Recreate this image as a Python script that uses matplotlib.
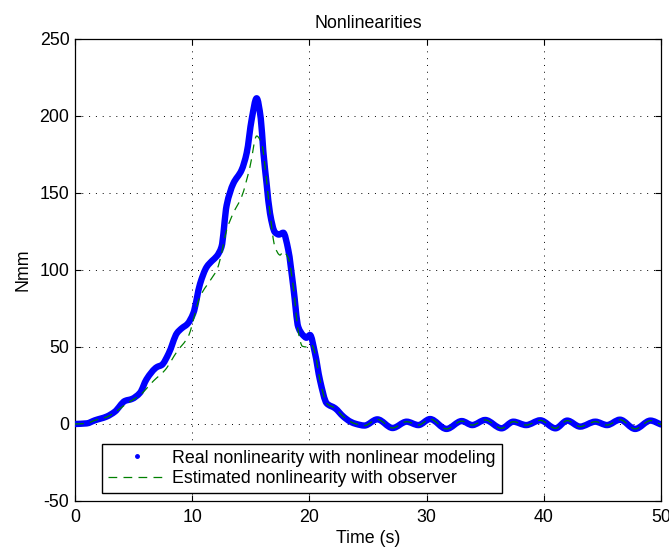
import matplotlib
matplotlib.use("Agg")
import matplotlib.pyplot as plt
from matplotlib.path import Path
from matplotlib.patches import PathPatch
import numpy as np

# Real nonlinearity (nonlinear modeling), sampled time [s] / torque [Nmm]
real_t = [0.0, 1.0, 1.7, 2.7, 3.4, 4.27, 4.84, 5.55, 6.1, 7.0, 7.4, 8.0, 8.7, 9.1,
          9.6, 10.1, 10.67, 11.24, 11.7, 12.1, 12.5, 12.94, 13.5, 14.22, 14.65,
          15.08, 15.5, 15.85, 16.07, 16.35, 16.64, 17.06, 17.4, 17.77, 18.2,
          18.63, 19.05, 19.48, 19.75, 20.05, 20.48, 20.9, 21.48, 22.2, 22.9,
          23.5, 24.0, 24.7, 25.8, 27.1, 28.3, 29.3, 30.3, 31.7, 33.0, 33.9,
          35.0, 36.4, 37.4, 38.5, 39.7, 41.0, 42.0, 43.1, 44.4, 45.4, 46.5,
          47.8, 49.1, 50.0]
real_v = [0.0, 0.4, 2.4, 4.8, 8.0, 15.0, 16.2, 20.3, 29.0, 37.0, 38.3, 45.9, 59.0,
          62.1, 65.0, 72.0, 91.0, 102.0, 106.0, 109.0, 115.0, 142.0, 156.0,
          165.0, 176.0, 198.0, 211.5, 198.5, 177.0, 156.0, 136.8, 124.5, 123.0,
          124.2, 113.0, 89.0, 63.0, 57.5, 56.0, 57.8, 45.9, 28.6, 13.4, 10.2,
          4.8, 1.5, 0.0, -1.0, 3.0, -2.6, 1.5, -0.7, 3.2, -3.2, 1.9, -0.7, 2.6,
          -2.8, 1.5, -0.7, 2.4, -2.8, 2.2, -1.7, 1.5, -0.7, 2.8, -3.2, 2.2, -0.3]

# Observer estimate (differs from the real curve up to ~20.5 s)
est_t_head = [0.0, 1.0, 1.7, 2.7, 3.4, 4.27, 5.0, 5.55, 6.7, 7.68, 8.7, 9.67,
              10.67, 11.66, 12.1, 12.37, 12.94, 13.5, 14.22, 14.93, 15.5, 15.93,
              16.35, 16.64, 17.06, 17.5, 17.77, 18.2, 18.63, 19.05, 19.4, 19.8,
              20.2, 20.48]
est_v_head = [0.0, 0.4, 2.4, 4.5, 7.5, 12.5, 16.0, 18.8, 28.0, 35.0, 47.0, 57.0,
              82.7, 94.6, 100.0, 106.5, 126.0, 136.8, 147.6, 167.0, 187.0, 182.0,
              158.0, 136.8, 115.0, 109.7, 112.0, 107.6, 89.0, 60.0, 50.5, 50.0,
              51.3, 45.9]

# Past 20.5 s the estimate follows the real curve
tail_start = real_t.index(20.9)
est_t = est_t_head + real_t[tail_start:]
est_v = est_v_head + real_v[tail_start:]

x_ticks = [0, 10, 20, 30, 40, 50]
y_ticks = [-50, 0, 50, 100, 150, 200, 250]


def smooth_path(t, v):
    """Cubic Bezier path through the samples (monotone Hermite tangents)."""
    t = np.asarray(t, float)
    v = np.asarray(v, float)
    h = np.diff(t)
    d = np.diff(v) / h
    m = np.zeros_like(v)
    m[0], m[-1] = d[0], d[-1]
    for i in range(1, len(v) - 1):
        if d[i - 1] * d[i] <= 0:
            m[i] = 0.0
        else:
            w1 = 2 * h[i] + h[i - 1]
            w2 = h[i] + 2 * h[i - 1]
            m[i] = (w1 + w2) / (w1 / d[i - 1] + w2 / d[i])
    verts = [(t[0], v[0])]
    codes = [Path.MOVETO]
    for i in range(len(h)):
        verts += [(t[i] + h[i] / 3, v[i] + m[i] * h[i] / 3),
                  (t[i + 1] - h[i] / 3, v[i + 1] - m[i + 1] * h[i] / 3),
                  (t[i + 1], v[i + 1])]
        codes += [Path.CURVE4] * 3
    return Path(verts, codes)


plt.rcParams['font.family'] = ['Liberation Sans', 'DejaVu Sans']
plt.rcParams['axes.unicode_minus'] = False
FS = 12.8

fig = plt.figure(figsize=(6.69, 5.5), dpi=100)
ax = fig.add_axes([0.1121, 0.0891, 0.8759, 0.8400])

ax.add_patch(PathPatch(smooth_path(real_t, real_v), fill=False,
                       edgecolor='#0000FF', lw=4.6, joinstyle='round',
                       capstyle='round', zorder=3))
ax.add_patch(PathPatch(smooth_path(est_t, est_v), fill=False,
                       edgecolor='#008000', lw=0.9, linestyle=(0, (7, 5)),
                       zorder=4))

# legend entries
ax.plot([], [], '.', color='#0000FF', markersize=5,
        label='Real nonlinearity with nonlinear modeling')
ax.plot([], [], color='#008000', lw=0.9, dashes=(7, 5),
        label='Estimated nonlinearity with observer')

ax.set_xlim(0, 50)
ax.set_ylim(-50, 250)
ax.set_xticks(x_ticks)
ax.set_yticks(y_ticks)
ax.tick_params(direction='in', length=4, width=0.8, top=True, right=True,
               labelsize=FS)
ax.tick_params(axis='x', pad=6)
ax.tick_params(axis='y', pad=4)
ax.grid(True, color='black', linestyle=(0, (1, 6)), linewidth=0.7)
for s in ax.spines.values():
    s.set_linewidth(0.9)

ax.set_title('Nonlinearities', fontsize=FS, pad=8)
ax.set_xlabel('Time (s)', fontsize=FS, labelpad=3)
ax.set_ylabel('Nmm', fontsize=FS, labelpad=6)

leg = ax.legend(loc='lower left', bbox_to_anchor=(0.046, 0.017),
                fontsize=FS, frameon=True, fancybox=False, framealpha=1,
                edgecolor='black', borderpad=0.33, handlelength=3.3,
                handletextpad=0.33, labelspacing=0.2, borderaxespad=0)
leg.get_frame().set_linewidth(1.0)

fig.savefig('out.png', dpi=100)
